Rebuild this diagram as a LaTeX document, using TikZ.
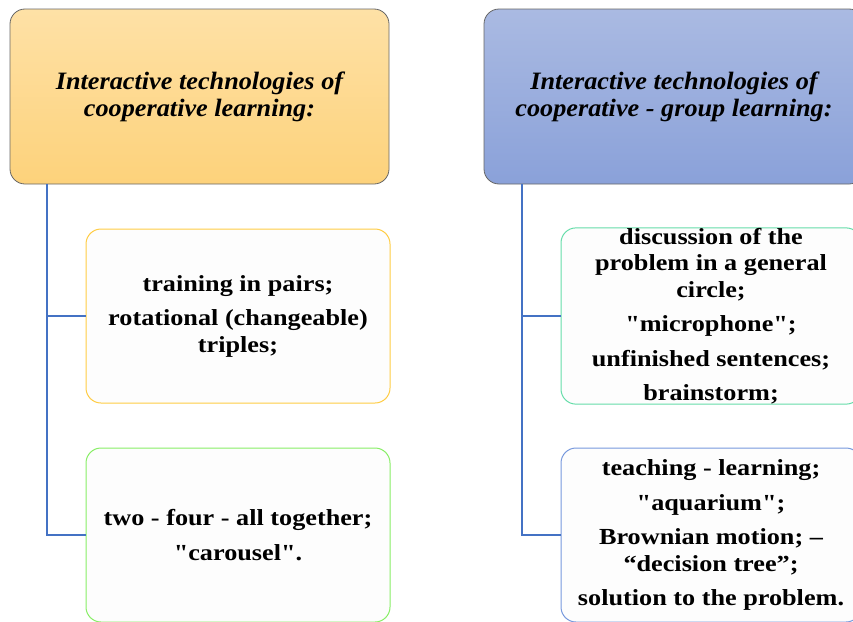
\documentclass[tikz,border=0pt]{standalone}
\usepackage{fontspec}
\setmainfont{Liberation Serif}[Ligatures=TeXOff]
\newfontfamily\bodyfont{Liberation Serif}[Ligatures=TeXOff, FakeStretch=1.14]
\newfontfamily\headfont{Liberation Serif}[Ligatures=TeXOff, FakeStretch=1.05]
\definecolor{conncol}{HTML}{4472C4}
\definecolor{orangeTop}{HTML}{FEE1A6}
\definecolor{orangeBot}{HTML}{FDD27B}
\definecolor{blueTop}{HTML}{AABAE2}
\definecolor{blueBot}{HTML}{8AA1D9}
\definecolor{bYellow}{HTML}{FFCC44}
\definecolor{bGreen}{HTML}{88EE66}
\definecolor{bTeal}{HTML}{66DDAA}
\definecolor{bBlue}{HTML}{7799DD}
\definecolor{boxfill}{HTML}{FDFDFD}
\tikzset{
  header/.style={draw=gray!80!black, line width=0.8pt, rounded corners=15pt, inner sep=0pt,
    minimum height=175pt, align=center,
    font=\headfont\fontsize{25}{27}\selectfont\bfseries\itshape},
  itembox/.style={line width=1pt, fill=boxfill, rounded corners=15pt, inner sep=0pt,
    minimum width=304pt, minimum height=174pt, align=center,
    font=\bodyfont\fontsize{23}{26.5}\selectfont\bfseries},
  conn/.style={draw=conncol, line width=2pt}
}
\begin{document}
\begin{tikzpicture}[x=1pt,y=-1pt]
\useasboundingbox (0,0) rectangle (853,621);
\clip (0,0) rectangle (853,621);
% headers
\node[header, top color=orangeTop, bottom color=orangeBot, minimum width=379pt] (hL) at (199.5,96.5)
  {Interactive technologies of\\cooperative learning:};
\node[header, top color=blueTop, bottom color=blueBot, minimum width=380pt] (hR) at (674,96.5)
  {Interactive technologies of\\cooperative - group learning:};
% item boxes
\node[itembox, draw=bYellow] (bL1) at (238,316)
  {training in pairs;\\[8pt] rotational (changeable)\\triples;};
\node[itembox, draw=bGreen] (bL2) at (238,535)
  {two - four - all together;\\[8pt] "carousel".};
\node[itembox, draw=bTeal, minimum width=300pt] (bR1) at (711,316)
  {discussion of the\\problem in a general\\circle;\\[8pt] "microphone";\\[8pt] unfinished sentences;\\[8pt] brainstorm;};
\node[itembox, draw=bBlue, minimum width=300pt] (bR2) at (711,535)
  {teaching - learning;\\[8pt] "aquarium";\\[8pt] Brownian motion; –\\“decision tree”;\\[8pt] solution to the problem.};
% connectors
\coordinate (tL) at (47,184);
\coordinate (tR) at (522,184);
\draw[conn] (tL) |- (bL2.west);
\draw[conn] (tL |- bL1.west) -- (bL1.west);
\draw[conn] (tR) |- (bR2.west);
\draw[conn] (tR |- bR1.west) -- (bR1.west);
\end{tikzpicture}
\end{document}
